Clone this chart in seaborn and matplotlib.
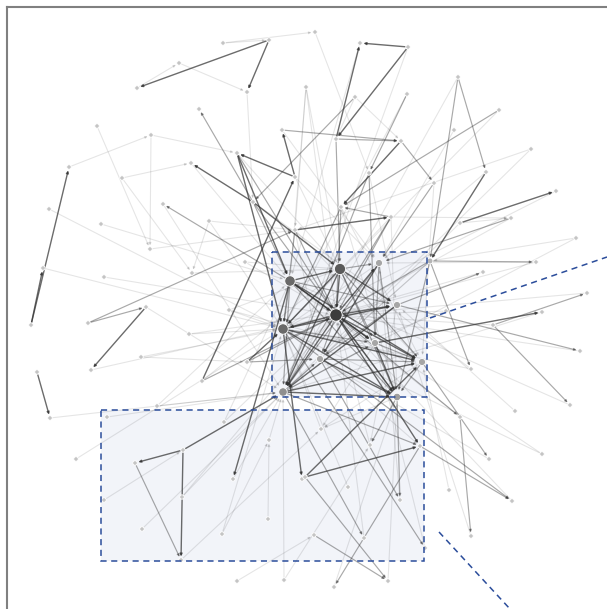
import matplotlib
matplotlib.use("Agg")
import matplotlib.pyplot as plt
from matplotlib.patches import Rectangle
import pandas as pd
import seaborn as sns

# node layout positions (layout units, y grows downward)
node_x = [223, 269, 179, 137, 247, 199, 97, 151, 282, 69, 122, 191, 237, 295, 49, 163, 253, 209, 101, 295,
          150, 245, 43, 192, 104, 290, 315, 360, 408, 458, 306, 355, 407, 499, 454, 336, 401, 531, 486, 434,
          369, 556, 341, 391, 511, 460, 576, 430, 379, 340, 536, 483, 587, 146, 88, 31, 229, 189, 283, 141,
          247, 91, 37, 202, 283, 157, 50, 107, 224, 269, 183, 76, 135, 233, 302, 104, 182, 268, 142, 222,
          181, 237, 284, 336, 397, 446, 542, 493, 375, 320, 422, 580, 471, 397, 570, 515, 460, 321, 370, 420,
          542, 489, 305, 348, 449, 512, 400, 471, 314, 364, 425, 388, 334]
node_y = [43, 40, 63, 88, 92, 109, 126, 135, 130, 167, 178, 163, 153, 177, 209, 204, 202, 221, 224, 230,
          249, 262, 268, 273, 277, 281, 32, 43, 47, 77, 87, 97, 94, 110, 130, 139, 141, 149, 172, 183,
          173, 191, 207, 217, 218, 223, 238, 261, 263, 269, 262, 272, 293, 307, 323, 325, 310, 334, 329, 357,
          362, 370, 372, 381, 392, 406, 418, 417, 422, 440, 450, 459, 463, 479, 479, 500, 497, 519, 529, 534,
          560, 581, 580, 315, 305, 311, 312, 325, 343, 359, 362, 351, 369, 397, 405, 411, 417, 429, 445, 446,
          454, 459, 477, 487, 490, 501, 500, 536, 535, 538, 548, 581, 587]
node_weight = {83: 1.0, 49: 0.8, 25: 0.7, 58: 0.7, 64: 0.45, 84: 0.3, 48: 0.3,
               88: 0.3, 89: 0.3, 90: 0.3, 93: 0.35, 47: 0.2}

edges_dark = [(1, 3), (1, 4), (28, 27), (35, 27), (28, 35), (38, 47), (55, 9), (55, 22), (62, 66), (53, 61),
              (63, 13), (70, 72), (70, 80), (70, 64), (25, 73), (58, 74), (102, 99), (102, 90), (83, 99),
              (88, 86), (45, 41), (19, 43), (36, 42), (13, 8), (13, 12), (16, 11), (12, 25), (12, 58), (16, 49),
              (25, 49), (25, 83), (49, 83), (83, 58), (83, 64), (83, 84), (83, 88), (83, 90), (83, 93),
              (58, 90), (58, 93), (64, 90), (64, 93), (49, 84), (49, 58), (25, 88), (48, 89), (89, 93),
              (84, 64), (49, 64), (83, 48), (88, 93), (58, 84), (25, 90), (60, 58)]
edges_mid = [(29, 47), (29, 38), (54, 53), (72, 80), (102, 111), (99, 112), (99, 105), (87, 94), (47, 92),
             (96, 107), (33, 42), (36, 39), (35, 36), (35, 49), (32, 40), (8, 36), (25, 15), (16, 5),
             (108, 111), (64, 109), (58, 110), (84, 91), (87, 52), (47, 50), (84, 51), (43, 42), (31, 16),
             (54, 19), (39, 48), (44, 48), (60, 83), (60, 89), (16, 25),
             (25, 58), (25, 64), (49, 48), (49, 93), (48, 88), (48, 93), (64, 89), (84, 89), (88, 90),
             (90, 93), (49, 90), (25, 93), (48, 64), (89, 90), (58, 88), (64, 88), (83, 89), (49, 88),
             (25, 84), (42, 83), (42, 58), (19, 83), (19, 58), (43, 83), (43, 64), (47, 83), (47, 93),
             (40, 64), (40, 88), (12, 83), (16, 93), (63, 83), (89, 106), (93, 98), (93, 106), (90, 101),
             (83, 96), (64, 99), (58, 105)]
edges_light = [(0, 26), (0, 1), (2, 4), (4, 16), (6, 20), (9, 7), (7, 20), (7, 12), (10, 11), (10, 23),
               (14, 58), (18, 25), (20, 19), (17, 23), (17, 19), (24, 83), (30, 19), (30, 25), (31, 36),
               (31, 35), (34, 48), (37, 19), (38, 48), (39, 90), (46, 47), (45, 44), (43, 44), (59, 58),
               (59, 60), (57, 58), (65, 64), (67, 64), (71, 58), (75, 70), (78, 64), (79, 69), (77, 69),
               (81, 108), (82, 64), (69, 64), (97, 58), (98, 83), (100, 83), (101, 89), (95, 84), (104, 90),
               (103, 58), (106, 48), (91, 83), (92, 58), (85, 83), (50, 48), (44, 83), (45, 89), (11, 25),
               (15, 64), (17, 58), (23, 49), (56, 49), (56, 58), (68, 83), (68, 25), (73, 64), (76, 64),
               (80, 97), (53, 64), (57, 84), (61, 83), (63, 49), (65, 25), (76, 83), (79, 58), (82, 98),
               (112, 93), (109, 83), (110, 88), (111, 93), (107, 84), (105, 83), (94, 25), (100, 58),
               (86, 64), (52, 83), (46, 64), (41, 58), (37, 64), (33, 58), (29, 64), (32, 58), (27, 25),
               (28, 64), (3, 2), (21, 49), (22, 58), (66, 64), (30, 49), (30, 83), (26, 40), (40, 84),
               (42, 90), (42, 93), (19, 90), (19, 89), (43, 58), (43, 93), (47, 89), (47, 64), (48, 58),
               (84, 98), (88, 97), (90, 97), (89, 99), (93, 97), (85, 89), (87, 83), (92, 49), (96, 25),
               (51, 58), (50, 83), (13, 49), (13, 48), (8, 48), (12, 49), (16, 84), (21, 83), (56, 90)]

# zoomed regions (x0, y0, x1, y1) and their connector lines
zoom_boxes = [(272, 252, 427, 397), (101, 410, 424, 561)]
connectors = [((430, 318), (607, 257)), ((439, 532), (510, 609))]

nodes = pd.DataFrame({"x": node_x, "y": node_y})
nodes["w"] = [node_weight.get(i, 0.1) for i in range(len(nodes))]

sns.set_style("white")
fig = plt.figure(figsize=(6.07, 6.09), dpi=100)
ax = fig.add_axes([7 / 607, 0, 600 / 607, 602 / 609])
ax.set_xlim(7, 607)
ax.set_ylim(609, 7)

for x0, y0, x1, y1 in zoom_boxes:
    ax.add_patch(Rectangle((x0, y0), x1 - x0, y1 - y0, facecolor="#eef1f8", alpha=0.75,
                           edgecolor="none", zorder=0))


def draw_edges(edges, color, alpha, lw, z):
    for s, t in edges:
        r = 5 if nodes.w[t] > 0.25 else 2.5
        ax.annotate("", xy=(nodes.x[t], nodes.y[t]), xytext=(nodes.x[s], nodes.y[s]),
                    arrowprops=dict(arrowstyle="-|>", color=color, alpha=alpha, lw=lw,
                                    shrinkA=2, shrinkB=r, mutation_scale=3.5),
                    zorder=z)


draw_edges(edges_light, "#000000", 0.1, 0.8, 1)
draw_edges(edges_mid, "#333333", 0.42, 0.85, 2)
draw_edges(edges_dark, "#333333", 0.72, 1.0, 3)

cmap = sns.blend_palette(["#c4c4c4", "#3c3c3c"], as_cmap=True)
sns.scatterplot(data=nodes, x="x", y="y", hue="w", size="w", palette=cmap, hue_norm=(0.1, 1.0),
                sizes=(10, 80), size_norm=(0.1, 1.0), edgecolor="white", linewidth=0.6,
                legend=False, ax=ax, zorder=4)

for x0, y0, x1, y1 in zoom_boxes:
    ax.add_patch(Rectangle((x0, y0), x1 - x0, y1 - y0, facecolor="none", edgecolor="#2b4d9b",
                           lw=1.1, linestyle=(0, (4, 3)), zorder=5))
for (a, b) in connectors:
    ax.plot([a[0], b[0]], [a[1], b[1]], color="#2b4d9b", lw=1.1, linestyle=(0, (4, 3)), zorder=5)

ax.set_xticks([])
ax.set_yticks([])
ax.set_xlabel("")
ax.set_ylabel("")
for side in ["right", "bottom"]:
    ax.spines[side].set_visible(False)
for side in ["left", "top"]:
    ax.spines[side].set_color("#808080")
    ax.spines[side].set_linewidth(1.5)

fig.savefig("out.png", dpi=100)
